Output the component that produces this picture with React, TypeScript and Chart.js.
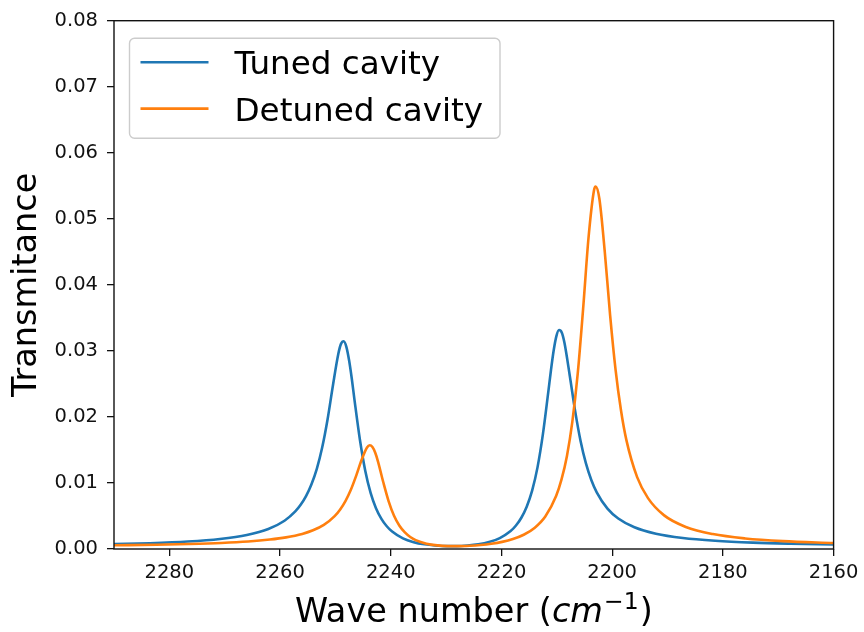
import { useEffect, useRef } from 'react';
import { Chart, registerables } from 'chart.js';

Chart.register(...registerables);

const seriesLabels = ['Tuned cavity', 'Detuned cavity'];
const seriesColors = ['#1f77b4', '#ff7f0e'];

const tunedWavenumber = [
  2290, 2283.51, 2276.7, 2270.87, 2266.01, 2262.12, 2259.2, 2257.25, 2256.28, 2255.31,
  2254.34, 2253.36, 2252.39, 2251.42, 2250.45, 2249.47, 2248.99, 2248.5, 2248.01, 2247.53,
  2247.04, 2246.56, 2245.58, 2244.61, 2243.64, 2242.67, 2241.69, 2240.72, 2239.75, 2237.8,
  2235.86, 2233.91, 2231.97, 2230.02, 2228.08, 2226.13, 2224.19, 2222.24, 2220.3, 2218.35,
  2217.38, 2216.41, 2215.44, 2214.46, 2213.49, 2212.52, 2211.55, 2211.06, 2210.57, 2210.09,
  2209.6, 2209.11, 2208.63, 2207.66, 2206.68, 2205.71, 2204.74, 2203.77, 2202.79, 2200.85,
  2198.9, 2195.98, 2192.1, 2187.23, 2181.4, 2174.59, 2167.78, 2160,
];
const tunedTransmittance = [
  0.00074, 0.00088, 0.00113, 0.00152, 0.00212, 0.00303, 0.00428, 0.00569, 0.00669, 0.00801,
  0.00977, 0.01214, 0.01536, 0.01961, 0.02476, 0.02957, 0.03106, 0.03145, 0.03058, 0.02857,
  0.02578, 0.02263, 0.01659, 0.01186, 0.0085, 0.00618, 0.00457, 0.00345, 0.00264, 0.00161,
  0.00104, 0.00071, 0.00053, 0.00044, 0.00044, 0.00053, 0.00071, 0.00105, 0.00165, 0.00271,
  0.00355, 0.00473, 0.0064, 0.00883, 0.01236, 0.01735, 0.02373, 0.02707, 0.03005, 0.0322,
  0.03316, 0.03279, 0.03126, 0.02624, 0.02084, 0.01636, 0.01296, 0.01046, 0.00859, 0.00612,
  0.00462, 0.00329, 0.00232, 0.00167, 0.00125, 0.00097, 0.00081, 0.00069,
];

const detunedWavenumber = [
  2290, 2282.35, 2276.49, 2270.64, 2265.76, 2261.85, 2258.93, 2256.0, 2254.05, 2252.09,
  2250.14, 2249.17, 2248.19, 2247.21, 2246.24, 2245.26, 2244.29, 2243.8, 2243.31, 2242.82,
  2242.33, 2241.36, 2240.38, 2239.41, 2238.43, 2237.45, 2236.48, 2235.5, 2233.55, 2231.6,
  2229.65, 2227.69, 2225.74, 2223.79, 2221.84, 2219.89, 2217.93, 2215.98, 2214.03, 2212.08,
  2210.13, 2209.15, 2208.17, 2207.2, 2206.22, 2205.25, 2204.27, 2203.29, 2203.0, 2202.32,
  2201.34, 2200.37, 2199.39, 2198.41, 2197.44, 2195.49, 2193.53, 2190.61, 2186.7, 2181.82,
  2175.97, 2169.16, 2160,
];
const detunedTransmittance = [
  0.00056, 0.00065, 0.00076, 0.00092, 0.00114, 0.00143, 0.00176, 0.00228, 0.00283, 0.00365,
  0.00498, 0.00596, 0.00726, 0.00897, 0.01112, 0.01351, 0.01537, 0.0157, 0.01545, 0.01461,
  0.01332, 0.01014, 0.00722, 0.00504, 0.00353, 0.00251, 0.00182, 0.00135, 0.00081, 0.00055,
  0.00044, 0.00043, 0.00049, 0.00061, 0.0008, 0.00108, 0.00151, 0.00216, 0.00319, 0.00492,
  0.00802, 0.01053, 0.0141, 0.01925, 0.02659, 0.03637, 0.04717, 0.0543, 0.05489, 0.05308,
  0.04504, 0.03539, 0.02717, 0.021, 0.01652, 0.01088, 0.0077, 0.00509, 0.00334, 0.00226,
  0.0016, 0.00119, 0.0009,
];

const xTicks = [2280, 2260, 2240, 2220, 2200, 2180, 2160];
const yTicks = [0, 0.01, 0.02, 0.03, 0.04, 0.05, 0.06, 0.07, 0.08];
const xRange = [2160, 2290];
const yRange = [0, 0.08];

const FONT = "'DejaVu Sans', 'Noto Sans', sans-serif";

export default function App() {
  const ref = useRef<HTMLCanvasElement>(null);

  useEffect(() => {
    const canvas = ref.current;
    if (!canvas) return;

    const framePlugin = {
      id: 'frame',
      afterDatasetsDraw(chart: any) {
        const { ctx, chartArea: a } = chart;
        ctx.save();
        ctx.strokeStyle = '#111';
        ctx.lineWidth = 1.4;
        ctx.strokeRect(a.left, a.top, a.right - a.left, a.bottom - a.top);
        ctx.restore();
      },
    };

    const legendPlugin = {
      id: 'mplLegend',
      afterDraw(chart: any) {
        const { ctx, chartArea: a } = chart;
        const x0 = a.left + 15.5;
        const y0 = a.top + 17.5;
        const w = 370.5;
        const h = 100;
        const r = 5;
        ctx.save();
        ctx.beginPath();
        ctx.moveTo(x0 + r, y0);
        ctx.lineTo(x0 + w - r, y0);
        ctx.arcTo(x0 + w, y0, x0 + w, y0 + r, r);
        ctx.lineTo(x0 + w, y0 + h - r);
        ctx.arcTo(x0 + w, y0 + h, x0 + w - r, y0 + h, r);
        ctx.lineTo(x0 + r, y0 + h);
        ctx.arcTo(x0, y0 + h, x0, y0 + h - r, r);
        ctx.lineTo(x0, y0 + r);
        ctx.arcTo(x0, y0, x0 + r, y0, r);
        ctx.closePath();
        ctx.fillStyle = 'rgba(255,255,255,0.8)';
        ctx.fill();
        ctx.strokeStyle = '#cccccc';
        ctx.lineWidth = 1.4;
        ctx.stroke();
        chart.data.datasets.forEach((ds: any, i: number) => {
          const y = y0 + 24 + i * 46.4;
          ctx.beginPath();
          ctx.moveTo(x0 + 11, y);
          ctx.lineTo(x0 + 79, y);
          ctx.strokeStyle = ds.borderColor;
          ctx.lineWidth = 2.6;
          ctx.stroke();
          ctx.fillStyle = '#000';
          ctx.font = `32.6px ${FONT}`;
          ctx.textAlign = 'left';
          ctx.textBaseline = 'alphabetic';
          ctx.fillText(ds.label, x0 + 105, y + 12.2);
        });
        ctx.restore();
      },
    };

    const xTitlePlugin = {
      id: 'xTitle',
      afterDraw(chart: any) {
        const { ctx, chartArea: a } = chart;
        const parts = [
          { text: 'Wave number (', font: `33.5px ${FONT}`, dy: 0, gap: 0 },
          { text: 'cm', font: `italic 33.5px ${FONT}`, dy: 0, gap: 1 },
          { text: '\u22121', font: `23.5px ${FONT}`, dy: -13, gap: 1 },
          { text: ')', font: `33.5px ${FONT}`, dy: 0, gap: 0 },
        ];
        ctx.save();
        let total = 0;
        const widths = parts.map((p) => {
          ctx.font = p.font;
          const wd = ctx.measureText(p.text).width + p.gap;
          total += wd;
          return wd;
        });
        let x = (a.left + a.right) / 2 - total / 2;
        const base = a.bottom + 72.7;
        ctx.fillStyle = '#000';
        ctx.textAlign = 'left';
        ctx.textBaseline = 'alphabetic';
        parts.forEach((p, i) => {
          ctx.font = p.font;
          ctx.fillText(p.text, x, base + p.dy);
          x += widths[i];
        });
        ctx.restore();
      },
    };

    const chart = new Chart(canvas, {
      type: 'line',
      data: {
        datasets: [
          {
            label: seriesLabels[0],
            data: tunedWavenumber.map((x, i) => ({ x, y: tunedTransmittance[i] })),
            borderColor: seriesColors[0],
            backgroundColor: seriesColors[0],
            borderWidth: 2.6,
            pointRadius: 0,
            cubicInterpolationMode: 'monotone',
            fill: false,
            order: 1,
          },
          {
            label: seriesLabels[1],
            data: detunedWavenumber.map((x, i) => ({ x, y: detunedTransmittance[i] })),
            borderColor: seriesColors[1],
            backgroundColor: seriesColors[1],
            borderWidth: 2.6,
            pointRadius: 0,
            cubicInterpolationMode: 'monotone',
            fill: false,
            order: 0,
          },
        ],
      },
      options: {
        animation: false,
        responsive: false,
        devicePixelRatio: 1,
        layout: { padding: { left: 0, top: 18, right: 30, bottom: 0 } },
        plugins: {
          legend: { display: false },
          tooltip: { enabled: false },
        },
        scales: {
          x: {
            type: 'linear',
            reverse: true,
            min: xRange[0],
            max: xRange[1],
            afterFit: (s: any) => {
              s.height = 83;
            },
            afterBuildTicks: (s: any) => {
              s.ticks = xTicks.map((v) => ({ value: v }));
            },
            ticks: {
              callback: (v: any) => String(v),
              font: { family: FONT, size: 19.5 },
              color: '#111',
              padding: 5.6,
              maxRotation: 0,
              autoSkip: false,
            },
            grid: {
              display: true,
              drawOnChartArea: false,
              drawTicks: true,
              tickLength: 7,
              color: '#111',
              lineWidth: 1.3,
            },
            border: { display: false },
            title: { display: false },
          },
          y: {
            type: 'linear',
            min: yRange[0],
            max: yRange[1],
            afterFit: (s: any) => {
              s.width = 114;
            },
            afterBuildTicks: (s: any) => {
              s.ticks = yTicks.map((v) => ({ value: v }));
            },
            ticks: {
              callback: (v: any) => Number(v).toFixed(2),
              font: { family: FONT, size: 19.5 },
              color: '#111',
              padding: 9,
              autoSkip: false,
            },
            grid: {
              display: true,
              drawOnChartArea: false,
              drawTicks: true,
              tickLength: 7,
              color: '#111',
              lineWidth: 1.3,
            },
            border: { display: false },
            title: {
              display: true,
              text: 'Transmitance',
              font: { family: FONT, size: 33.5 },
              color: '#000',
              padding: { top: 7, bottom: 0 },
            },
          },
        },
      } as any,
      plugins: [framePlugin, legendPlugin, xTitlePlugin],
    });

    return () => {
      chart.destroy();
    };
  }, []);

  return (
    <canvas
      ref={ref}
      width={864}
      height={632}
      style={{ position: 'absolute', left: 0, top: 0, width: 864, height: 632 }}
    />
  );
}
